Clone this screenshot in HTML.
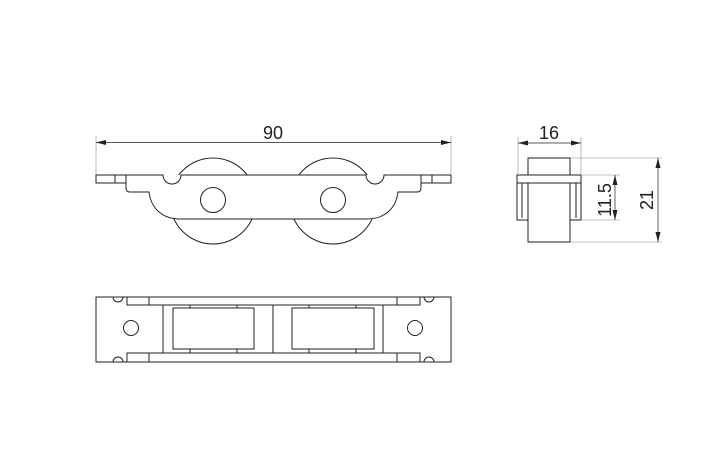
<!DOCTYPE html>
<html><head><style>body{margin:0;background:#fff}svg{display:block}</style></head><body>
<svg width="704" height="472" viewBox="0 0 704 472" xmlns="http://www.w3.org/2000/svg" font-family="Liberation Sans, sans-serif">
<defs><clipPath id="w"><rect x="0" y="0" width="704" height="175"/><rect x="0" y="219" width="704" height="100"/></clipPath></defs>
<g fill="none" stroke="#222" stroke-width="1">
<line x1="96" y1="136" x2="96" y2="174" stroke="#888" stroke-width="0.6"/>
<line x1="451" y1="136" x2="451" y2="174" stroke="#888" stroke-width="0.6"/>
<line x1="96" y1="142.5" x2="451" y2="142.5" stroke-width="0.7"/>
<g clip-path="url(#w)">
<circle cx="213" cy="201" r="43"/><circle cx="333" cy="201" r="43"/>
</g>
<path d="M96,175 H163 A9,9 0 0 0 181,175 H366 A9,9 0 0 0 384,175 H451 V183 H421 V188 Q421,192 417,192 H398 C396,208 385,219 367,219 H180 C162,219 151,208 149,192 H130 Q126,192 126,188 V183 H96 Z"/>
<line x1="115" y1="175" x2="115" y2="183"/><line x1="126" y1="175" x2="126" y2="183"/>
<line x1="432" y1="175" x2="432" y2="183"/><line x1="421" y1="175" x2="421" y2="183"/>
<circle cx="213" cy="200" r="12.5"/><circle cx="333" cy="200" r="12.5"/>
<rect x="96" y="297" width="355" height="65"/>
<path d="M127,297 V305 H420 V297 M149,297 V305 M397,297 V305"/>
<path d="M127,362 V353 H420 V362 M149,362 V353 M397,362 V353"/>
<line x1="163" y1="305" x2="163" y2="353"/><line x1="383" y1="305" x2="383" y2="353"/>
<line x1="273" y1="305" x2="273" y2="353"/>
<rect x="173" y="308" width="81" height="41"/><rect x="292" y="308" width="82" height="41"/>
<path d="M190,305 V308 M237,305 V308 M190,349 V353 M237,349 V353 M309,305 V308 M356,305 V308 M309,349 V353 M356,349 V353"/>
<circle cx="131" cy="328" r="7.5"/><circle cx="415" cy="328" r="7.5"/>
<path d="M113,297 A5,5 0 0 0 123,297 M424,297 A5,5 0 0 0 434,297 M113,362 A5,5 0 0 1 123,362 M424,362 A5,5 0 0 1 434,362"/>
<line x1="518" y1="137" x2="518" y2="174" stroke="#888" stroke-width="0.6"/>
<line x1="581" y1="137" x2="581" y2="174" stroke="#888" stroke-width="0.6"/>
<line x1="518" y1="143" x2="581" y2="143" stroke-width="0.7"/>
<rect x="528" y="158" width="42" height="17"/>
<rect x="517" y="175" width="64" height="8"/>
<rect x="528" y="183" width="42" height="59"/>
<path d="M517,183 V220 H528 M522,183 V218 M581,183 V220 H570 M576,183 V218"/>
<line x1="570" y1="158" x2="662" y2="158" stroke="#888" stroke-width="0.6"/>
<line x1="570" y1="242" x2="662" y2="242" stroke="#888" stroke-width="0.6"/>
<line x1="581" y1="175" x2="620" y2="175" stroke="#888" stroke-width="0.6"/>
<line x1="581" y1="220" x2="620" y2="220" stroke="#888" stroke-width="0.6"/>
<line x1="615" y1="175" x2="615" y2="220" stroke-width="0.7"/>
<line x1="658" y1="158" x2="658" y2="242" stroke-width="0.7"/>
</g>
<g fill="#222">
<path d="M96,142.5 l10,-2.5 v5z M451,142.5 l-10,-2.5 v5z"/>
<path d="M518,143 l10,-2.5 v5z M581,143 l-10,-2.5 v5z"/>
<path d="M615,175 l-2.5,10 h5z M615,220 l-2.5,-10 h5z"/>
<path d="M658,158 l-2.5,10 h5z M658,242 l-2.5,-10 h5z"/>
</g>
<g fill="#222" font-size="18">
<text x="273" y="139" text-anchor="middle">90</text>
<text x="549" y="139" text-anchor="middle">16</text>
<text transform="translate(611,200) rotate(-90)" text-anchor="middle">11.5</text>
<text transform="translate(653,200) rotate(-90)" text-anchor="middle">21</text>
</g>
</svg>
</body></html>
